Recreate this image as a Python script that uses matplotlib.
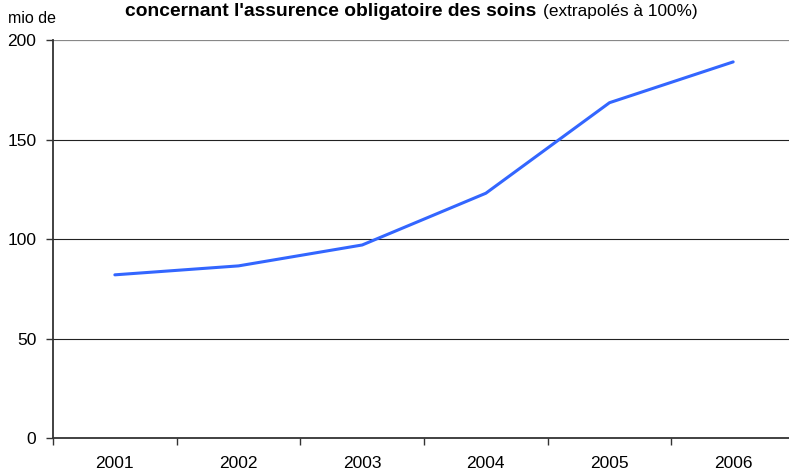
import matplotlib.pyplot as plt
import numpy as np

annees = ["2001", "2002", "2003", "2004", "2005", "2006"]
montants = [82, 86.5, 97, 123, 168.5, 189]
yticks = [0, 50, 100, 150, 200]

plt.rcParams['font.family'] = ['Liberation Sans', 'DejaVu Sans']

fig = plt.figure(figsize=(7.89, 4.74), dpi=100)
ax = fig.add_axes([0.0672, 0.0759, 0.9404, 0.8397])

x = np.arange(len(annees))
ax.plot(x, montants, color="#3366ff", lw=2.2, solid_capstyle="round", zorder=3)

ax.set_xlim(-0.5, len(annees) - 0.5)
ax.set_ylim(0, 200)
ax.set_yticks(yticks)
for v in yticks[1:-1]:
    ax.axhline(v, color="#222222", lw=0.8, zorder=1)
ax.axhline(200, color="#888888", lw=1.6, zorder=1)

ax.set_xticks(np.arange(len(annees) + 1) - 0.5)
ax.set_xticklabels([])
ax.set_xticks(x, minor=True)
ax.set_xticklabels(annees, minor=True, fontsize=12.5)
ax.tick_params(axis="x", which="minor", length=0, pad=13)
ax.tick_params(axis="x", which="major", length=5, width=1, color="#333333")
ax.tick_params(axis="y", length=5, width=1, color="#333333", labelsize=12.5, pad=7)

for s in ["top", "right"]:
    ax.spines[s].set_visible(False)
for s in ["left", "bottom"]:
    ax.spines[s].set_color("#333333")
    ax.spines[s].set_linewidth(1.3)

fig.text(0.010, 0.9515, "mio de", fontsize=11.5, va="baseline", ha="left")
t1 = fig.text(0.159, 0.966, "concernant l'assurence obligatoire des soins", fontsize=13.9,
              fontweight="bold", va="baseline", ha="left")
fig.canvas.draw()
bb = t1.get_window_extent()
fig.text(bb.x1 / fig.bbox.width + 0.008, 0.966, "(extrapolés à 100%)", fontsize=12.4,
         va="baseline", ha="left")

fig.savefig("out.png", dpi=100)
